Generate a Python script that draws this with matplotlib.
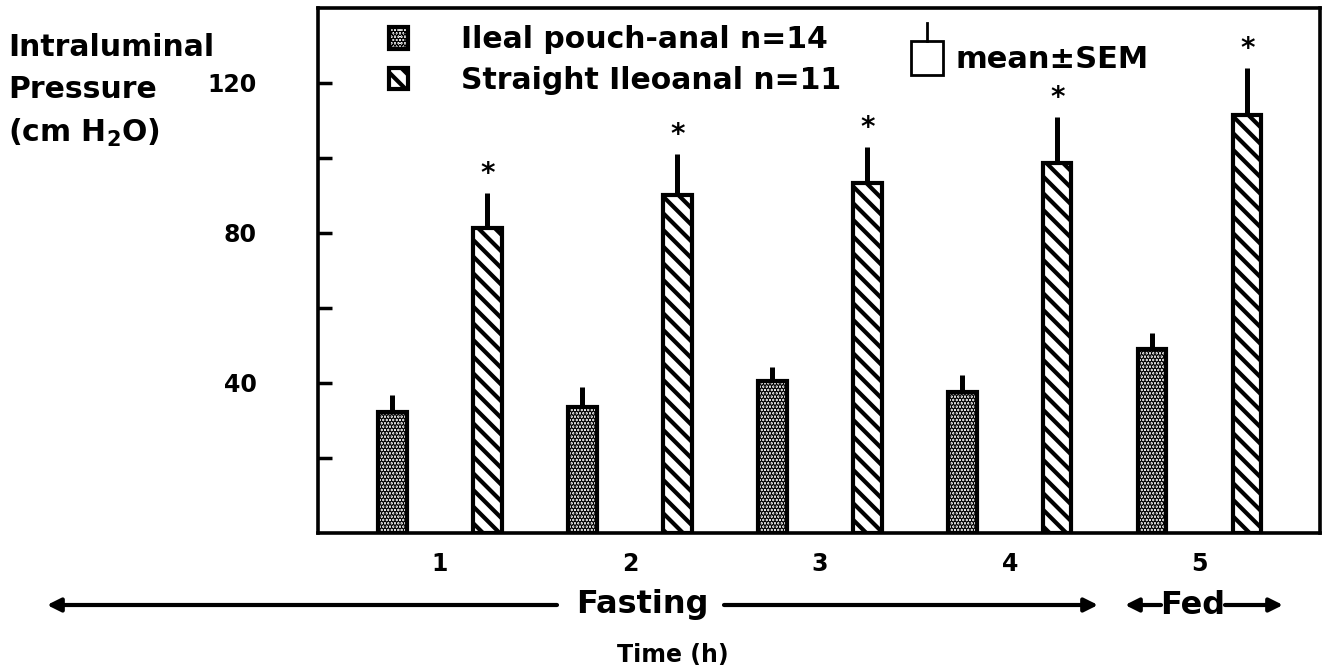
import numpy as np
import matplotlib
matplotlib.use("Agg")
import matplotlib.pyplot as plt
from matplotlib.patches import Rectangle
from matplotlib.lines import Line2D

plt.rcParams['font.family'] = ['DejaVu Sans']
plt.rcParams['font.weight'] = 'bold'
plt.rcParams['mathtext.fontset'] = 'custom'
plt.rcParams['mathtext.bf'] = 'DejaVu Sans:bold'
plt.rcParams['mathtext.rm'] = 'DejaVu Sans:bold'

# data
hours = [1, 2, 3, 4, 5]
hour_labels = ["1", "2", "3", "4", "5"]
pouch_mean = [32.3, 33.6, 40.5, 37.6, 49.0]
pouch_sem = [4.5, 5.3, 3.8, 4.5, 4.3]
straight_mean = [81.3, 90.1, 93.3, 98.7, 111.5]
straight_sem = [9.4, 10.9, 9.6, 12.2, 12.5]
significant = [True, True, True, True, True]

W, H = 1333, 672
fig = plt.figure(figsize=(W / 100, H / 100), dpi=100)
ax = fig.add_axes([318 / W, 1 - 533 / H, (1320 - 318) / W, (533 - 8) / H])

x = np.array(hours, dtype=float)
off = 0.25
bw = 0.148

plt.rcParams['hatch.linewidth'] = 2.3
b1 = ax.bar(x - off, pouch_mean, bw, color='white', edgecolor='black',
            linewidth=3.0, hatch='.....', zorder=3, label='Ileal pouch-anal n=14')
try:
    for p in b1:
        p.set_hatch_linewidth(2.3)
except AttributeError:
    pass
plt.rcParams['hatch.linewidth'] = 3.0
b2 = ax.bar(x + off, straight_mean, bw, color='white', edgecolor='black',
            linewidth=3.0, hatch='\\\\', zorder=3, label='Straight Ileoanal n=11')
try:
    for p in b2:
        p.set_hatch_linewidth(3.0)
except AttributeError:
    pass

ax.errorbar(x - off, pouch_mean, yerr=[np.zeros(5), pouch_sem], fmt='none',
            ecolor='black', elinewidth=3.6, capsize=0, zorder=2)
ax.errorbar(x + off, straight_mean, yerr=[np.zeros(5), straight_sem], fmt='none',
            ecolor='black', elinewidth=3.6, capsize=0, zorder=2)

for xi, m, s, sig in zip(x + off, straight_mean, straight_sem, significant):
    if sig:
        ax.text(xi, m + s + 1.3, '*', ha='center', va='bottom', fontsize=20,
                fontweight='bold')

ax.set_xlim(0.358, 5.632)
ax.set_ylim(0, 140)
ax.set_yticks([20, 40, 60, 80, 100, 120])
ax.set_yticklabels(['', '40', '', '80', '', '120'])
ax.tick_params(axis='y', direction='in', length=10, width=2.5, pad=44,
               labelsize=17)
ax.set_xticks(hours)
ax.set_xticklabels(hour_labels)
ax.tick_params(axis='x', length=0, pad=14, labelsize=17)
for s in ax.spines.values():
    s.set_linewidth(2.6)

leg = ax.legend(handles=[b1, b2], loc='upper left',
                bbox_to_anchor=(389 / W, 1 - 25 / H),
                bbox_transform=fig.transFigure, frameon=False,
                fontsize=21.5, handlelength=0.65, handleheight=0.75,
                handletextpad=1.75, labelspacing=0.4, borderpad=0,
                borderaxespad=0)

# mean±SEM key
fig.add_artist(Rectangle((911 / W, 1 - 75 / H), 32 / W, 34 / H,
                         transform=fig.transFigure, fill=False,
                         edgecolor='black', linewidth=2.0))
fig.add_artist(Line2D([927 / W, 927 / W], [1 - 41 / H, 1 - 23 / H],
                      transform=fig.transFigure, color='black', linewidth=2.0))
fig.text(956 / W, 1 - 60 / H, 'mean±SEM', ha='left', va='center', fontsize=22)

# y label
fig.text(8 / W, 1 - 47 / H, 'Intraluminal', ha='left', va='center', fontsize=21.5)
fig.text(8 / W, 1 - 90 / H, 'Pressure', ha='left', va='center', fontsize=21.5)
fig.text(8 / W, 1 - 133 / H, r'(cm H$_\mathbf{2}$O)', ha='left', va='center',
         fontsize=21.5)

# fasting / fed arrows
ay = 1 - 605 / H
arrow = dict(arrowstyle='-|>', color='black', lw=3, mutation_scale=20,
             shrinkA=0, shrinkB=0)
fig.text(642 / W, ay, 'Fasting', ha='center', va='center', fontsize=23)
ax.annotate('', xy=(47 / W, ay), xytext=(557 / W, ay),
            xycoords='figure fraction', textcoords='figure fraction',
            arrowprops=arrow)
ax.annotate('', xy=(1098 / W, ay), xytext=(724 / W, ay),
            xycoords='figure fraction', textcoords='figure fraction',
            arrowprops=arrow)
fig.text(1193 / W, ay, 'Fed', ha='center', va='center', fontsize=23)
ax.annotate('', xy=(1125 / W, ay), xytext=(1161 / W, ay),
            xycoords='figure fraction', textcoords='figure fraction',
            arrowprops=arrow)
ax.annotate('', xy=(1283 / W, ay), xytext=(1225 / W, ay),
            xycoords='figure fraction', textcoords='figure fraction',
            arrowprops=arrow)
fig.text(673 / W, 1 - 655 / H, 'Time (h)', ha='center', va='center', fontsize=17)

fig.savefig('out.png', dpi=100)
